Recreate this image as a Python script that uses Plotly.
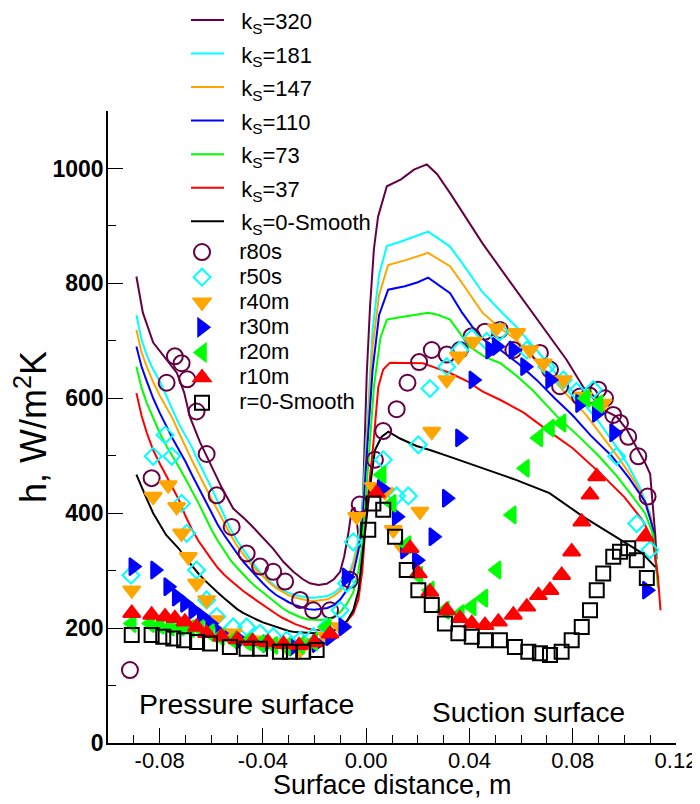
import plotly.graph_objects as go

# ---------------- data ----------------
ks320_x = [-0.089, -0.0865, -0.0825, -0.078, -0.0733, -0.0705, -0.0683, -0.0645, -0.0605, -0.056,
           -0.0515, -0.047, -0.0437, -0.040, -0.036, -0.032, -0.0282, -0.0245, -0.0218, -0.0185,
           -0.0153, -0.0125, -0.0101, -0.0085, -0.0069, -0.0056, -0.0045, -0.0035, -0.0025, -0.0012,
           0.0002, 0.0015, 0.003, 0.0046, 0.008, 0.0135, 0.0185, 0.0235, 0.0275, 0.0325, 0.039,
           0.045, 0.0515, 0.058, 0.0645, 0.0713, 0.0776, 0.084, 0.0917, 0.097, 0.101, 0.105, 0.108,
           0.110, 0.111, 0.112, 0.1125]
ks320_y = [812, 749, 697, 670, 644, 610, 568, 525, 487, 445,
           408, 390, 375, 358, 338, 315, 298, 285, 278, 275,
           277, 285, 298, 325, 365, 406, 410, 380, 340, 430,
           640, 760, 860, 916, 969, 981, 998, 1007, 990, 957, 912,
           870, 829, 789, 748, 707, 667, 620, 580, 568, 545, 512, 488,
           468, 420, 360, 320]

# common x positions of the pressure-side branch of the remaining lines
ps_x = [-0.089, -0.087, -0.085, -0.0825, -0.080, -0.0775, -0.075, -0.0725, -0.070, -0.0675,
        -0.065, -0.0625, -0.060, -0.0575, -0.055, -0.0525, -0.050, -0.0475, -0.045, -0.0425,
        -0.040, -0.0375, -0.035, -0.0325, -0.030, -0.0275, -0.025, -0.0225, -0.020, -0.0175,
        -0.015, -0.0125, -0.010, -0.0075, -0.005]
ks181_ps = [745, 702, 675, 650, 630, 605, 580, 555, 535, 515, 490, 468, 445, 420, 395, 372, 352, 335,
            320, 305, 292, 282, 272, 266, 261, 257, 255, 253, 253, 254, 256, 261, 270, 285, 315]
ks147_ps = [719, 680, 655, 628, 605, 585, 565, 540, 515, 492, 470, 447, 425, 405, 383, 362, 343, 327,
            313, 301, 290, 279, 270, 263, 257, 253, 250, 248, 247, 248, 250, 256, 265, 280, 310]
ks110_ps = [690, 655, 630, 600, 575, 552, 530, 510, 490, 467, 445, 422, 400, 380, 362, 345, 330, 315,
            302, 290, 278, 267, 258, 251, 245, 240, 236, 233, 232, 233, 235, 240, 250, 266, 295]
ks73_ps = [655, 618, 592, 565, 540, 518, 500, 480, 460, 440, 418, 395, 372, 352, 335, 318, 305, 292,
           281, 271, 262, 252, 243, 235, 228, 223, 218, 215, 214, 214, 216, 220, 228, 242, 262]
ks37_ps = [609, 570, 540, 510, 487, 465, 445, 423, 395, 372, 352, 335, 320, 305, 293, 283, 273, 264,
           256, 248, 240, 232, 225, 218, 212, 207, 203, 199, 197, 196, 196, 198, 202, 212, 225]
ks0_ps = [467, 445, 425, 400, 380, 362, 350, 338, 322, 308, 295, 283, 272, 262, 252, 242, 233, 226,
          220, 215, 210, 206, 202, 198, 195, 193, 192, 191, 191, 192, 193, 196, 200, 212, 231]

# leading-edge rise and suction-side branch
ks181_ss_x = [-0.003, -0.0017, 0.0005, 0.0025, 0.005, 0.008, 0.013, 0.018, 0.024, 0.028, 0.0325, 0.038,
              0.045, 0.052, 0.058, 0.066, 0.074, 0.082, 0.090, 0.097, 0.101, 0.106, 0.110, 0.1115, 0.1125]
ks181_ss_y = [355, 394, 560, 720, 815, 865, 872, 880, 890, 878, 864, 830,
              785, 752, 725, 684, 640, 603, 560, 515, 487, 445, 399, 341, 295]
ks147_ss_x = [-0.003, -0.0015, 0.0005, 0.0025, 0.005, 0.0085, 0.015, 0.020, 0.024, 0.028, 0.0325, 0.038,
              0.045, 0.052, 0.058, 0.0645, 0.0713, 0.078, 0.085, 0.092, 0.098, 0.104, 0.108, 0.1105,
              0.112, 0.113]
ks147_ss_y = [345, 390, 540, 690, 780, 832, 840, 848, 853, 842, 830, 795,
              749, 722, 702, 672, 638, 605, 572, 530, 495, 455, 420, 390, 330, 285]
ks110_ss_x = [-0.003, -0.0015, 0.0005, 0.0025, 0.005, 0.0085, 0.015, 0.020, 0.024, 0.028, 0.0325, 0.037,
              0.041, 0.046, 0.052, 0.059, 0.066, 0.073, 0.080, 0.087, 0.095, 0.102, 0.108, 0.111,
              0.112, 0.1125]
ks110_ss_y = [335, 380, 520, 650, 745, 789, 795, 802, 810, 797, 783, 750,
              725, 700, 684, 660, 632, 600, 570, 535, 500, 460, 420, 375, 330, 300]
ks73_ss_x = [-0.003, -0.0015, 0.0008, 0.003, 0.0055, 0.008, 0.012, 0.018, 0.024, 0.028, 0.0325, 0.036,
             0.040, 0.046, 0.052, 0.058, 0.0645, 0.074, 0.082, 0.090, 0.097, 0.103, 0.108, 0.111,
             0.112, 0.113]
ks73_ss_y = [300, 345, 480, 620, 705, 737, 740, 744, 749, 745, 737, 715,
             690, 672, 661, 640, 614, 568, 535, 500, 465, 430, 400, 365, 330, 270]
ks37_ss_x = [-0.003, -0.0015, 0.0002, 0.0028, 0.0047, 0.0066, 0.0092, 0.015, 0.022, 0.0275, 0.0325,
             0.039, 0.045, 0.052, 0.061, 0.070, 0.080, 0.091, 0.100, 0.107, 0.111, 0.113, 0.114]
ks37_ss_y = [250, 300, 406, 522, 620, 650, 662, 662, 661, 652, 644,
             630, 612, 597, 575, 545, 513, 468, 428, 388, 353, 290, 231]
ks0_ss_x = [-0.003, -0.0011, 0.0015, 0.0034, 0.006, 0.0086, 0.0131, 0.0195, 0.0247, 0.0325, 0.045,
            0.058, 0.071, 0.084, 0.097, 0.107, 0.112]
ks0_ss_y = [265, 341, 446, 510, 533, 542, 530, 517, 510, 498, 479,
            458, 435, 394, 358, 330, 306]

# measurements
r80s_x = [-0.0915, -0.0831, -0.0773, -0.0741, -0.0715, -0.0693, -0.0657, -0.0618, -0.0579, -0.0521,
          -0.0463, -0.0411, -0.036, -0.0314, -0.0256, -0.0205, -0.014, -0.0063, -0.0025, 0.0034,
          0.0066, 0.0118, 0.016, 0.0205, 0.0254, 0.0312, 0.0363, 0.0409, 0.046, 0.0518, 0.057,
          0.0673, 0.0712, 0.0751, 0.0828, 0.0865, 0.0899, 0.0925, 0.0957, 0.0983, 0.1015, 0.1054, 0.109]
r80s_y = [127, 461, 627, 673, 661, 633, 577, 503, 431, 376,
          330, 307, 298, 281, 249, 231, 231, 284, 415, 493,
          543, 581, 627, 663, 684, 676, 684, 708, 716, 719, 684,
          679, 650, 621, 603, 605, 615, 600, 571, 557, 533, 499, 429]
r50s_x = [-0.0911, -0.0825, -0.0779, -0.0753, -0.0715, -0.0695, -0.0657, -0.0618, -0.0579, -0.0515,
          -0.0463, -0.0411, -0.036, -0.0308, -0.0256, -0.0205, -0.0153, -0.0101, -0.0076, -0.005,
          0.0066, 0.0118, 0.0163, 0.0202, 0.0247, 0.0312, 0.0363, 0.0409, 0.0467, 0.0518, 0.0622,
          0.0699, 0.0764, 0.0815, 0.088, 0.097, 0.1048, 0.1099]
r50s_y = [292, 499, 536, 499, 417, 365, 301, 249, 220, 202,
          202, 191, 185, 179, 179, 185, 202, 231, 278, 350,
          493, 430, 430, 519, 617, 655, 684, 705, 699, 716, 684,
          655, 632, 612, 615, 499, 382, 336]
r40m_x = [-0.0908, -0.0825, -0.0767, -0.0734, -0.0715, -0.0689, -0.0657, -0.0618, -0.0586, -0.0515,
          -0.0463, -0.0411, -0.036, -0.0308, -0.0256, -0.0205, -0.0153, -0.0101, -0.0037, 0.0028,
          0.0073, 0.0105, 0.0144, 0.0208, 0.0254, 0.0312, 0.0357, 0.0415, 0.0505, 0.0583, 0.0634,
          0.0686, 0.0764, 0.0841, 0.0918]
r40m_y = [266, 429, 449, 411, 365, 324, 278, 249, 214, 191,
          179, 179, 173, 167, 162, 173, 185, 202, 394, 446,
          437, 371, 338, 403, 542, 632, 673, 699, 722, 714, 684,
          661, 632, 603, 591]
r30m_x = [-0.0902, -0.0818, -0.0767, -0.0734, -0.0702, -0.067, -0.0637, -0.0605, -0.0566, -0.0489,
          -0.0385, -0.0282, -0.0192, -0.014, -0.0089, -0.0076, 0.006, 0.0118, 0.015, 0.0196,
          0.026, 0.0312, 0.0363, 0.0415, 0.048, 0.0505, 0.057, 0.0615, 0.0712, 0.0828, 0.0893,
          0.096, 0.1087]
r30m_y = [307, 301, 272, 254, 243, 231, 220, 208, 191, 179,
          173, 167, 173, 185, 202, 289, 443, 394, 336, 318,
          359, 426, 531, 632, 684, 690, 684, 655, 632, 591, 574,
          540, 266]
r20m_x = [-0.0908, -0.0837, -0.0799, -0.076, -0.0721, -0.0682, -0.0644, -0.0605, -0.0566, -0.0515,
          -0.046, -0.041, -0.036, -0.031, -0.0256, -0.0205, -0.0153, 0.006, 0.0099, 0.0157,
          0.0202, 0.0247, 0.0305, 0.0363, 0.0409, 0.0454, 0.0505, 0.0564, 0.0615, 0.0667, 0.0712,
          0.0757, 0.085, 0.090]
r20m_y = [208, 208, 205, 202, 202, 199, 199, 192, 185, 179,
          176, 173, 170, 168, 170, 176, 202, 467, 417, 345,
          292, 266, 231, 225, 237, 252, 301, 397, 478, 531, 548,
          557, 600, 590]
r10m_x = [-0.0908, -0.0831, -0.0779, -0.0741, -0.0702, -0.0657, -0.0618, -0.056, -0.050, -0.044,
          -0.038, -0.032, -0.026, -0.020, -0.014, 0.004, 0.017, 0.0202, 0.0247, 0.0312,
          0.0363, 0.0409, 0.046, 0.0512, 0.057, 0.0622, 0.0667, 0.0712, 0.0757, 0.0796, 0.0835,
          0.0867, 0.0893, 0.108]
r10m_y = [226, 223, 220, 217, 211, 202, 191, 185, 180, 177,
          175, 172, 170, 175, 190, 435, 339, 295, 263, 231,
          217, 208, 205, 211, 223, 237, 257, 266, 292, 333, 385,
          432, 464, 359]
r0_x = [-0.0908, -0.0831, -0.0786, -0.0747, -0.0705, -0.0655, -0.0605, -0.0528, -0.0463, -0.0411,
        -0.0334, -0.0295, -0.0244, -0.0192, 0.0008, 0.0028, 0.0066, 0.0112, 0.0157, 0.0202,
        0.0254, 0.0305, 0.0357, 0.0409, 0.046, 0.0518, 0.0576, 0.0628, 0.0673, 0.0712, 0.0757,
        0.0796, 0.0835, 0.0867, 0.0893, 0.0918, 0.0957, 0.0983, 0.1015, 0.1048, 0.1087]
r0_y = [188, 188, 185, 182, 179, 176, 173, 167, 164, 164,
        159, 159, 159, 162, 371, 417, 406, 359, 301, 266,
        240, 208, 191, 185, 179, 179, 167, 159, 156, 153, 159,
        179, 202, 231, 266, 295, 324, 333, 339, 318, 287]

# tick labels
x_tickvals = [-0.08, -0.04, 0.0, 0.04, 0.08, 0.12]
x_ticktext = ["-0.08", "-0.04", "0.00", "0.04", "0.08", "0.12"]
y_tickvals = [0, 200, 400, 600, 800, 1000]
y_ticktext = ["0", "200", "400", "600", "800", "1000"]

# ---------------- styling ----------------
FONT = "Arial, 'Liberation Sans', Helvetica, sans-serif"
PURPLE = "#660044"
CYAN = "#00FFFF"
ORANGE = "#FFA500"
BLUE = "#0000FF"
GREEN = "#00FF00"
RED = "#FF0000"
BLACK = "#000000"

PAD = "\u2007"


def lname(t):
    return '<span style="font-size:22px">' + PAD + t + '</span>'


fig = go.Figure()

line_sets = [
    ("k<sub>S</sub>=320", ks320_x, ks320_y, PURPLE),
    ("k<sub>S</sub>=181", ps_x + ks181_ss_x, ks181_ps + ks181_ss_y, CYAN),
    ("k<sub>S</sub>=147", ps_x + ks147_ss_x, ks147_ps + ks147_ss_y, ORANGE),
    ("k<sub>S</sub>=110", ps_x + ks110_ss_x, ks110_ps + ks110_ss_y, BLUE),
    ("k<sub>S</sub>=73", ps_x + ks73_ss_x, ks73_ps + ks73_ss_y, GREEN),
    ("k<sub>S</sub>=37", ps_x + ks37_ss_x, ks37_ps + ks37_ss_y, RED),
    ("k<sub>S</sub>=0-Smooth", ps_x + ks0_ss_x, ks0_ps + ks0_ss_y, BLACK),
]
for name, xs, ys, col in line_sets:
    fig.add_trace(go.Scatter(x=xs, y=ys, mode="lines", name=lname(name),
                             line=dict(color=col, width=2), legend="legend"))

marker_sets = [
    ("r80s", r80s_x, r80s_y, "circle-open", PURPLE, 16),
    ("r50s", r50s_x, r50s_y, "diamond-open", CYAN, 13),
    ("r40m", r40m_x, r40m_y, "triangle-down", ORANGE, 15),
    ("r30m", r30m_x, r30m_y, "triangle-right", BLUE, 15),
    ("r20m", r20m_x, r20m_y, "triangle-left", GREEN, 15),
    ("r10m", r10m_x, r10m_y, "triangle-up", RED, 15),
    ("r=0-Smooth", r0_x, r0_y, "square-open", BLACK, 14),
]
for name, xs, ys, sym, col, sz in marker_sets:
    fig.add_trace(go.Scatter(x=xs, y=ys, mode="markers", name=lname(name),
                             marker=dict(symbol=sym, color=col, size=sz,
                                         line=dict(color=col, width=2)),
                             legend="legend2"))

fig.update_layout(
    width=700, height=804,
    # the page body adds an 8 px offset; margins compensate so the plot frame
    # lands at x 108..676, y 111..743 in the browser window
    margin=dict(l=100, r=32, t=103, b=69, autoexpand=False),
    paper_bgcolor="white", plot_bgcolor="white",
    font=dict(family=FONT, size=22, color="black"),
    showlegend=True,
    legend=dict(x=0.1373, y=1.1785, xanchor="left", yanchor="top",
                bgcolor="rgba(0,0,0,0)", borderwidth=0, itemwidth=33,
                font=dict(family=FONT, size=23.5, color="black")),
    legend2=dict(x=0.1215, y=0.8046, xanchor="left", yanchor="top",
                 bgcolor="rgba(0,0,0,0)", borderwidth=0, itemwidth=40,
                 font=dict(family=FONT, size=17, color="black")),
    xaxis=dict(range=[-0.1, 0.12], showgrid=False, zeroline=False,
               showline=True, linecolor="black", linewidth=1.5,
               tickmode="array", tickvals=x_tickvals, ticktext=x_ticktext,
               ticks="inside", ticklen=15, tickwidth=1.2, tickcolor="black",
               ticklabelstandoff=-3,
               minor=dict(dtick=0.01, tick0=0, ticks="inside", ticklen=8,
                          tickwidth=1.2, tickcolor="black", showgrid=False),
               tickfont=dict(family=FONT, size=22)),
    yaxis=dict(range=[0, 1100], showgrid=False, zeroline=False,
               showline=True, linecolor="black", linewidth=1.5,
               tickmode="array", tickvals=y_tickvals, ticktext=y_ticktext,
               ticks="inside", ticklen=15, tickwidth=1.2, tickcolor="black",
               ticklabelstandoff=-2,
               minor=dict(dtick=100, tick0=0, ticks="inside", ticklen=8,
                          tickwidth=1.2, tickcolor="black", showgrid=False),
               tickfont=dict(family=FONT, size=23, weight="bold"),
               title=dict(text="h, W/m<sup>2</sup>K", font=dict(family=FONT, size=36),
                          standoff=11)),
    annotations=[
        dict(x=0.5, y=-0.0665, xref="paper", yref="paper", text="Surface distance, m",
             showarrow=False, xanchor="center", yanchor="middle",
             font=dict(family=FONT, size=27, color="black")),
        dict(x=-0.0463, y=67.5, xref="x", yref="y", text="Pressure surface",
             showarrow=False, font=dict(family=FONT, size=28.5, color="black")),
        dict(x=0.063, y=53.3, xref="x", yref="y", text="Suction surface",
             showarrow=False, font=dict(family=FONT, size=28, color="black")),
    ],
)

fig.write_html("out.html")
